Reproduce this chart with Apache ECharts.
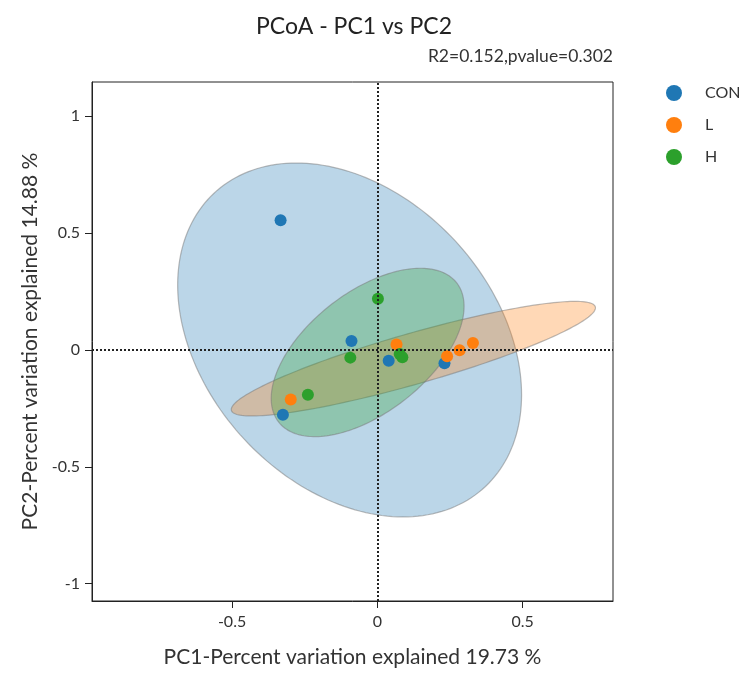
<!DOCTYPE html>
<html><head><meta charset="utf-8">
<script src="https://cdn.jsdelivr.net/npm/echarts@6/dist/echarts.min.js"></script>
<style>html,body{margin:0;padding:0;background:#fff}#c{width:747px;height:673px}</style>
</head><body><div id="c"></div>
<script>
// ---- data ----
const groups = ['CON', 'L', 'H'];
const colors = ['#1f77b4', '#ff7f0e', '#2ca02c'];
const conX = [-0.333, -0.089, 0.039, 0.231, -0.325];
const conY = [0.555, 0.038, -0.046, -0.057, -0.277];
const lX = [-0.298, 0.066, 0.240, 0.283, 0.329];
const lY = [-0.212, 0.023, -0.027, -0.001, 0.030];
const hX = [0.002, -0.093, 0.077, 0.086, -0.239];
const hY = [0.219, -0.033, -0.017, -0.031, -0.192];
const xTicks = [-0.5, 0, 0.5];
const yTicks = [-1, -0.5, 0, 0.5, 1];
const xRange = [-0.982, 0.811];
const yRange = [-1.074, 1.146];
const titleText = 'PCoA - PC1 vs PC2';
const subText = 'R2=0.152,pvalue=0.302';
const xName = 'PC1-Percent variation explained 19.73 %';
const yName = 'PC2-Percent variation explained 14.88 %';
const CHI2_95_2DF = 5.991;

const groupXs = [conX, lX, hX];
const groupYs = [conY, lY, hY];
const FONT = 'Lato';

// 95% normal confidence ellipse from the sample covariance
function ellipsePts(xs, ys, n) {
  const m = xs.length;
  const mx = xs.reduce((a, b) => a + b, 0) / m;
  const my = ys.reduce((a, b) => a + b, 0) / m;
  let sxx = 0, syy = 0, sxy = 0;
  for (let i = 0; i < m; i++) {
    sxx += (xs[i] - mx) ** 2; syy += (ys[i] - my) ** 2; sxy += (xs[i] - mx) * (ys[i] - my);
  }
  sxx /= (m - 1); syy /= (m - 1); sxy /= (m - 1);
  const r = Math.sqrt(CHI2_95_2DF);
  const l11 = Math.sqrt(sxx), l21 = sxy / l11, l22 = Math.sqrt(Math.max(syy - l21 * l21, 0));
  const pts = [];
  for (let i = 0; i < n; i++) {
    const t = 2 * Math.PI * i / n, u = Math.cos(t), v = Math.sin(t);
    pts.push([mx + r * l11 * u, my + r * (l21 * u + l22 * v)]);
  }
  return { center: [mx, my], pts };
}

function hexA(hex, a) {
  const n = parseInt(hex.slice(1), 16);
  return `rgba(${n >> 16},${(n >> 8) & 255},${n & 255},${a})`;
}

const series = [];
groups.forEach((g, i) => {
  const e = ellipsePts(groupXs[i], groupYs[i], 200);
  series.push({
    type: 'custom', name: g + '_ellipse', silent: true, z: 1, clip: true,
    data: [e.center],
    renderItem: (params, api) => ({
      type: 'polygon',
      shape: { points: e.pts.map(p => api.coord(p)) },
      style: { fill: hexA(colors[i], 0.3), stroke: 'rgba(120,120,120,0.5)', lineWidth: 1.2 }
    })
  });
});
groups.forEach((g, i) => {
  series.push({
    type: 'scatter', name: g, z: 3, symbol: 'circle', symbolSize: 12,
    itemStyle: { color: colors[i], opacity: 1 },
    data: groupXs[i].map((x, k) => [x, groupYs[i][k]])
  });
});
series.push({
  type: 'scatter', name: 'zero', data: [], z: 4, silent: true,
  markLine: {
    silent: true, symbol: 'none', animation: false,
    label: { show: false },
    lineStyle: { color: '#222', width: 2, type: [2, 2] },
    data: [{ xAxis: 0 }, { yAxis: 0 }]
  }
});

const chart = echarts.init(document.getElementById('c'), null, { renderer: 'canvas' });
chart.setOption({
  animation: false,
  backgroundColor: '#fff',
  textStyle: { fontFamily: FONT },
  grid: { left: 92, right: 134, top: 82, bottom: 70, show: true, borderColor: '#222', borderWidth: 1, containLabel: false },
  legend: {
    orient: 'vertical', left: 661, top: 80, itemWidth: 16, itemHeight: 16, itemGap: 16,
    icon: 'circle', data: groups,
    textStyle: { fontSize: 16, color: '#333', fontFamily: FONT, padding: [0, 0, 0, 18] }
  },
  graphic: [
    { type: 'text', x: 354, y: 27, style: { text: titleText, fontSize: 23, fontFamily: FONT, fill: '#222', textAlign: 'center', textVerticalAlign: 'middle' } },
    { type: 'text', x: 613, y: 56, style: { text: subText, fontSize: 17.5, fontFamily: FONT, fill: '#333', textAlign: 'right', textVerticalAlign: 'middle' } }
  ],
  xAxis: {
    type: 'value', min: xRange[0], max: xRange[1],
    name: xName, nameLocation: 'middle', nameGap: 46,
    nameTextStyle: { fontSize: 21, color: '#333', fontFamily: FONT },
    splitLine: { show: false },
    axisLine: { show: true, onZero: false, lineStyle: { color: '#222' } },
    axisTick: { show: true, length: 7, customValues: xTicks, lineStyle: { color: '#222' } },
    axisLabel: { customValues: xTicks, fontSize: 16, color: '#333', margin: 13, formatter: v => String(v) }
  },
  yAxis: {
    type: 'value', min: yRange[0], max: yRange[1],
    name: yName, nameLocation: 'middle', nameGap: 50,
    nameTextStyle: { fontSize: 21, color: '#333', fontFamily: FONT },
    splitLine: { show: false },
    axisLine: { show: true, onZero: false, lineStyle: { color: '#222' } },
    axisTick: { show: true, length: 7, customValues: yTicks, lineStyle: { color: '#222' } },
    axisLabel: { customValues: yTicks, fontSize: 16, color: '#333', margin: 12, formatter: v => String(v) }
  },
  series
});
</script>
</body></html>
